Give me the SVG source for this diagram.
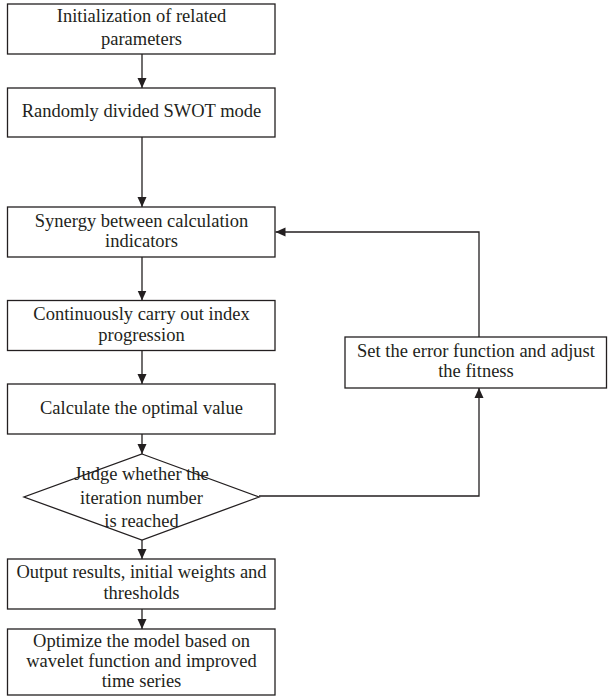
<svg xmlns="http://www.w3.org/2000/svg" width="608" height="697" viewBox="0 0 608 697">
<defs>
<style>
.n{fill:#fff;stroke:#231f20;stroke-width:1.3}
.t{font-family:"Liberation Serif","Times New Roman",serif;font-size:18.5px;fill:#231f20;text-anchor:middle}
.c{fill:none;stroke:#231f20;stroke-width:1.3}
</style>
<marker id="ah" markerUnits="userSpaceOnUse" markerWidth="10" markerHeight="10" viewBox="0 0 10 10" refX="10" refY="5" orient="auto">
<path d="M0,0.5 L10,5 L0,9.5 Z" fill="#231f20"/>
</marker>
</defs>
<rect width="608" height="697" fill="#fff"/>
<g id="connectors">
<line class="c" x1="142" y1="54" x2="142" y2="88" marker-end="url(#ah)"/>
<line class="c" x1="142" y1="137" x2="142" y2="207" marker-end="url(#ah)"/>
<line class="c" x1="142" y1="257" x2="142" y2="300.5" marker-end="url(#ah)"/>
<line class="c" x1="142" y1="350.5" x2="142" y2="384" marker-end="url(#ah)"/>
<line class="c" x1="142" y1="434" x2="142" y2="454" marker-end="url(#ah)"/>
<line class="c" x1="142" y1="540" x2="142" y2="559" marker-end="url(#ah)"/>
<line class="c" x1="142" y1="609" x2="142" y2="629" marker-end="url(#ah)"/>
<polyline class="c" points="259,496 479,496 479,388" marker-end="url(#ah)"/>
<polyline class="c" points="479,337 479,232 275.5,232" marker-end="url(#ah)"/>
</g>
<g id="n1">
<rect class="n" x="7.5" y="4" width="267.5" height="50"/>
<text class="t" x="141.5" y="22">Initialization of related</text>
<text class="t" x="141.5" y="44.5">parameters</text>
</g>
<g id="n2">
<rect class="n" x="7.5" y="88" width="267.5" height="49"/>
<text class="t" x="141.5" y="117">Randomly divided SWOT mode</text>
</g>
<g id="n3">
<rect class="n" x="7.5" y="207" width="267.5" height="50"/>
<text class="t" x="141.5" y="226.5">Synergy between calculation</text>
<text class="t" x="141.5" y="247">indicators</text>
</g>
<g id="n4">
<rect class="n" x="7.5" y="300.5" width="267.5" height="50"/>
<text class="t" x="141.5" y="320">Continuously carry out index</text>
<text class="t" x="141.5" y="340.5">progression</text>
</g>
<g id="n5">
<rect class="n" x="7.5" y="384" width="267.5" height="50"/>
<text class="t" x="141.5" y="413.5">Calculate the optimal value</text>
</g>
<g id="n6">
<polygon class="n" points="142,454 259,497 142,540 24,497"/>
<text class="t" x="141.5" y="480">Judge whether the</text>
<text class="t" x="141.5" y="503.5">iteration number</text>
<text class="t" x="141.5" y="526.5">is reached</text>
</g>
<g id="n7">
<rect class="n" x="7.5" y="559" width="267.5" height="50"/>
<text class="t" x="141.5" y="577.5">Output results, initial weights and</text>
<text class="t" x="141.5" y="599">thresholds</text>
</g>
<g id="n8">
<rect class="n" x="7.5" y="629" width="267.5" height="66"/>
<text class="t" x="141.5" y="647">Optimize the model based on</text>
<text class="t" x="141.5" y="667">wavelet function and improved</text>
<text class="t" x="141.5" y="687">time series</text>
</g>
<g id="n9">
<rect class="n" x="345" y="337" width="261.5" height="51"/>
<text class="t" x="476" y="357">Set the error function and adjust</text>
<text class="t" x="476" y="377">the fitness</text>
</g>
</svg>
